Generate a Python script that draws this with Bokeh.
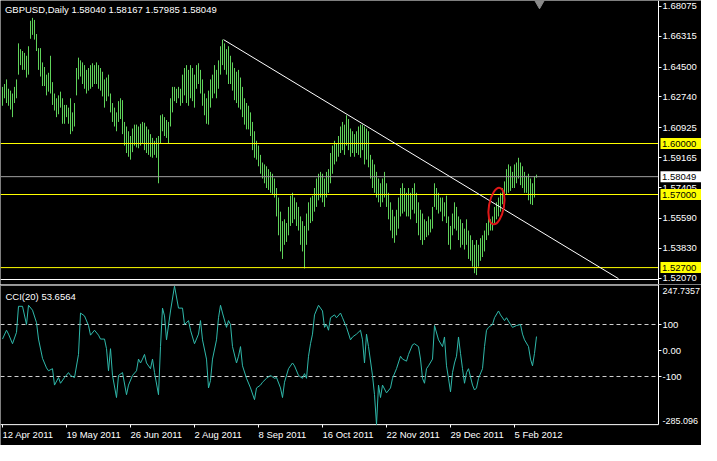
from bokeh.plotting import figure
from bokeh.models import Range1d, LinearAxis, FixedTicker, PrintfTickFormatter, Label, ColumnDataSource
from bokeh.core.properties import value
from bokeh.layouts import column
from bokeh.embed import file_html
from bokeh.resources import INLINE

# ---------------- data ----------------
bar_high = [
    1.6333, 1.6350, 1.6377, 1.6322, 1.6311, 1.6294, 1.6333, 1.6377, 1.6589, 1.6555,
    1.6544, 1.6533, 1.6516, 1.6572, 1.6722, 1.6739, 1.6727, 1.6644, 1.6561, 1.6561,
    1.6477, 1.6450, 1.6405, 1.6416, 1.6516, 1.6361, 1.6294, 1.6266, 1.6283, 1.6305,
    1.6266, 1.6227, 1.6227, 1.6211, 1.6266, 1.6183, 1.6238, 1.6444, 1.6505, 1.6489,
    1.6477, 1.6461, 1.6433, 1.6444, 1.6461, 1.6472, 1.6461, 1.6477, 1.6461, 1.6444,
    1.6422, 1.6377, 1.6388, 1.6405, 1.6294, 1.6238, 1.6211, 1.6183, 1.6249, 1.6266,
    1.6255, 1.6127, 1.6100, 1.6072, 1.6044, 1.6088, 1.6111, 1.6111, 1.6100, 1.6116,
    1.6127, 1.6122, 1.6100, 1.6083, 1.6055, 1.6033, 1.6016, 1.6033, 1.6044, 1.6166,
    1.6172, 1.6155, 1.6138, 1.6127, 1.6266, 1.6333, 1.6333, 1.6322, 1.6333, 1.6322,
    1.6405, 1.6444, 1.6461, 1.6433, 1.6461, 1.6444, 1.6405, 1.6461, 1.6472, 1.6433,
    1.6377, 1.6294, 1.6266, 1.6311, 1.6377, 1.6405, 1.6461, 1.6433, 1.6489, 1.6572,
    1.6611, 1.6589, 1.6555, 1.6572, 1.6516, 1.6477, 1.6444, 1.6422, 1.6433, 1.6388,
    1.6333, 1.6266, 1.6238, 1.6222, 1.6183, 1.6127, 1.6072, 1.6016, 1.5988, 1.5933,
    1.5888, 1.5877, 1.5866, 1.5849, 1.5833, 1.5822, 1.5794, 1.5738, 1.5682, 1.5599,
    1.5543, 1.5554, 1.5532, 1.5627, 1.5693, 1.5710, 1.5682, 1.5654, 1.5627, 1.5571,
    1.5543, 1.5515, 1.5588, 1.5654, 1.5682, 1.5693, 1.5738, 1.5794, 1.5822, 1.5833,
    1.5822, 1.5794, 1.5833, 1.5849, 1.5944, 1.5988, 1.6016, 1.6000, 1.6044, 1.6100,
    1.6127, 1.6111, 1.6166, 1.6144, 1.6088, 1.6072, 1.6055, 1.6072, 1.6100, 1.6111,
    1.6111, 1.6100, 1.6088, 1.6072, 1.5933, 1.5905, 1.5877, 1.5833, 1.5794, 1.5766,
    1.5794, 1.5833, 1.5766, 1.5710, 1.5654, 1.5610, 1.5571, 1.5610, 1.5682, 1.5738,
    1.5766, 1.5738, 1.5710, 1.5738, 1.5710, 1.5738, 1.5766, 1.5710, 1.5654, 1.5610,
    1.5588, 1.5554, 1.5543, 1.5571, 1.5554, 1.5627, 1.5766, 1.5738, 1.5710, 1.5682,
    1.5682, 1.5654, 1.5693, 1.5571, 1.5515, 1.5588, 1.5654, 1.5627, 1.5571, 1.5554,
    1.5532, 1.5499, 1.5554, 1.5488, 1.5460, 1.5432, 1.5404, 1.5432, 1.5404, 1.5443,
    1.5460, 1.5488, 1.5532, 1.5560, 1.5554, 1.5571, 1.5627, 1.5654, 1.5682, 1.5710,
    1.5738, 1.5777, 1.5849, 1.5877, 1.5866, 1.5833, 1.5877, 1.5888, 1.5916, 1.5888,
    1.5866, 1.5833, 1.5810, 1.5822, 1.5794, 1.5766, 1.5805, 1.58167,
]
bar_low = [
    1.6222, 1.6266, 1.6238, 1.6222, 1.6200, 1.6155, 1.6238, 1.6266, 1.6405, 1.6461,
    1.6433, 1.6433, 1.6388, 1.6405, 1.6616, 1.6639, 1.6611, 1.6544, 1.6433, 1.6394,
    1.6338, 1.6338, 1.6283, 1.6305, 1.6294, 1.6227, 1.6194, 1.6155, 1.6172, 1.6211,
    1.6116, 1.6116, 1.6155, 1.6116, 1.6055, 1.6072, 1.6100, 1.6283, 1.6377, 1.6394,
    1.6350, 1.6322, 1.6294, 1.6311, 1.6322, 1.6333, 1.6350, 1.6350, 1.6322, 1.6311,
    1.6277, 1.6211, 1.6249, 1.6277, 1.6183, 1.6127, 1.6100, 1.6072, 1.6127, 1.6144,
    1.6055, 1.5988, 1.5944, 1.5922, 1.5905, 1.5949, 1.5988, 1.5977, 1.5972, 1.5988,
    1.6000, 1.5961, 1.5944, 1.5933, 1.5922, 1.5916, 1.5933, 1.5916, 1.5766, 1.6000,
    1.6072, 1.6044, 1.6033, 1.6000, 1.6100, 1.6183, 1.6249, 1.6238, 1.6266, 1.6222,
    1.6238, 1.6283, 1.6238, 1.6222, 1.6266, 1.6249, 1.6211, 1.6322, 1.6350, 1.6294,
    1.6222, 1.6166, 1.6116, 1.6111, 1.6211, 1.6266, 1.6294, 1.6266, 1.6322, 1.6405,
    1.6461, 1.6433, 1.6405, 1.6350, 1.6350, 1.6311, 1.6255, 1.6238, 1.6211, 1.6200,
    1.6155, 1.6111, 1.6083, 1.6083, 1.6044, 1.5961, 1.5916, 1.5905, 1.5866, 1.5822,
    1.5794, 1.5766, 1.5738, 1.5727, 1.5710, 1.5699, 1.5682, 1.5571, 1.5460, 1.5365,
    1.5321, 1.5404, 1.5421, 1.5460, 1.5515, 1.5532, 1.5554, 1.5515, 1.5488, 1.5404,
    1.5365, 1.5265, 1.5404, 1.5488, 1.5532, 1.5543, 1.5599, 1.5627, 1.5666, 1.5682,
    1.5654, 1.5627, 1.5682, 1.5710, 1.5766, 1.5822, 1.5877, 1.5894, 1.5922, 1.5944,
    1.5961, 1.5933, 1.5988, 1.5961, 1.5922, 1.5944, 1.5922, 1.5944, 1.5933, 1.5916,
    1.5961, 1.5877, 1.5905, 1.5860, 1.5794, 1.5738, 1.5710, 1.5682, 1.5654, 1.5627,
    1.5654, 1.5682, 1.5627, 1.5554, 1.5488, 1.5443, 1.5416, 1.5460, 1.5499, 1.5571,
    1.5588, 1.5599, 1.5571, 1.5571, 1.5554, 1.5610, 1.5588, 1.5532, 1.5460, 1.5432,
    1.5404, 1.5432, 1.5449, 1.5460, 1.5477, 1.5499, 1.5627, 1.5610, 1.5588, 1.5599,
    1.5543, 1.5571, 1.5532, 1.5404, 1.5376, 1.5460, 1.5499, 1.5488, 1.5432, 1.5388,
    1.5404, 1.5376, 1.5404, 1.5321, 1.5310, 1.5276, 1.5237, 1.5226, 1.5276, 1.5310,
    1.5332, 1.5365, 1.5432, 1.5460, 1.5488, 1.5488, 1.5532, 1.5554, 1.5571, 1.5599,
    1.5643, 1.5682, 1.5699, 1.5710, 1.5721, 1.5738, 1.5738, 1.5766, 1.5794, 1.5755,
    1.5738, 1.5710, 1.5710, 1.5666, 1.5643, 1.5638, 1.5682, 1.57985,
]
bar_index = list(range(len(bar_high)))

cci_bar = [
    0, 2, 3, 5, 7, 8, 10, 12, 13, 15, 17, 18, 20, 22, 23, 25, 26, 28, 29, 31,
    33, 34, 36, 38, 39, 41, 43, 44, 46, 48, 49, 51, 52, 53, 54, 55, 57, 58, 60, 62,
    63, 65, 67, 68, 69, 70, 71, 72, 74, 75, 76, 78, 79, 80, 81, 82, 84, 86, 88, 90,
    91, 93, 94, 96, 98, 99, 100, 102, 103, 104, 105, 107, 108, 109, 110, 112, 113, 114, 115, 117,
    118, 119, 120, 122, 124, 126, 127, 129, 130, 132, 134, 136, 137, 139, 140, 141, 143, 145, 146, 148,
    150, 151, 152, 153, 154, 155, 156, 158, 160, 161, 162, 163, 164, 166, 167, 169, 170, 172, 174, 175,
    177, 179, 180, 181, 182, 183, 185, 186, 187, 188, 189, 190, 192, 194, 195, 197, 199, 200, 202, 203,
    205, 206, 208, 209, 210, 211, 212, 213, 215, 216, 218, 220, 221, 222, 223, 224, 225, 226, 227, 228,
    229, 230, 231, 232, 233, 235, 236, 237, 238, 240, 241, 242, 243, 245, 246, 248, 249, 251, 252, 254,
    255, 257, 259, 260, 261, 263, 264, 265, 266, 267,
]
cci_val = [
    44, 78, 63, 26, 70, 170, 170, 100, 174, 155, 107, 44, -30, -67, -78, -70, -133, -104, -126, -104,
    -85, -96, -104, -15, 144, 133, 96, 59, 78, 59, 44, 44, 7, -78, 7, -96, -181, -96, -85, -170,
    -133, -96, -78, -33, -48, -33, -15, -48, -70, -33, -85, -170, 15, 163, 133, 41, 152, 247.7, 163, 163,
    100, 115, 78, 26, 63, 115, 41, -33, -144, -115, -33, 41, 126, 174, 144, 89, 115, 100, 15, -48,
    -22, 15, -59, -107, -144, -189, -144, -133, -122, -107, -96, -107, -104, -144, -181, -122, -70, -48, -59, -96,
    -107, -89, -107, -22, 26, 63, 137, 174, 152, 89, 100, 78, 126, 137, 126, 144, 126, 89, 41, 52,
    63, 78, 41, -48, 63, 15, -96, -170, -285.1, -133, -181, -133, -163, -144, -107, -70, -22, -33, -41, -15,
    22, 26, 15, -33, -107, -126, -70, -59, -33, 96, 41, 15, 52, -59, -107, -159, -85, -48, -22, 52,
    -11, -70, -126, -85, -70, -133, -152, -144, -107, -70, 15, 78, 89, 100, 126, 152, 137, 115, 126, 100,
    89, 96, 100, 63, 41, 15, -33, -59, -11, 53.66,
]

date_tick_bars = [0, 32, 64, 96, 128, 160, 192, 224, 256]
date_tick_labels = ["12 Apr 2011", "19 May 2011", "26 Jun 2011", "2 Aug 2011", "8 Sep 2011",
                    "16 Oct 2011", "22 Nov 2011", "29 Dec 2011", "5 Feb 2012"]
price_ticks = [1.68075, 1.66315, 1.64500, 1.62740, 1.60925, 1.59165, 1.57405, 1.55590, 1.53830, 1.52070]
level_lines = [1.60000, 1.57000, 1.52700]
last_ohlc = [1.58040, 1.58167, 1.57985, 1.58049]
cci_ticks = [100, 0, -100]
cci_tick_labels = ["100", "0.00", "-100"]
cci_levels = [100, -100]
cci_last = "53.6564"
cci_max = 247.7357
cci_min = -285.096
trend_bars = [110.5, 308.0]
trend_prices = [1.6611, 1.5205]
mark_bar = [247]
mark_price = [1.5632]
shift_bar = [268.5]

# ---------------- layout constants (pixels) ----------------
FONT = "Liberation Sans"
FS = "9.5px"
GREEN = "#5fd35a"
TEAL = "#2fb8aa"
W = 701
H1, H2 = 284, 161
PX_PER_BAR = 2.0
X_LO = -1.0
X_HI = X_LO + W / PX_PER_BAR
AXIS_X = 328.0                      # data x of the price-scale line
PXP = 1700.0                        # pixels per price unit
P_TOP = 1.60 + 143.0 / PXP          # price at the top edge of the price panel
P_BOT = P_TOP - 279.0 / PXP         # price at the panel's bottom line
P_FRAME_BOT = P_TOP - H1 / PXP
PXC = 0.26                          # pixels per CCI unit
CCI_TOP_PX = 1.59
CCI_BOT_PX = CCI_TOP_PX + (cci_max - cci_min) * PXC
C_FRAME_TOP = cci_max + CCI_TOP_PX / PXC
C_FRAME_BOT = cci_min - (H2 - CCI_BOT_PX) / PXC


def style_axis(ax):
    ax.axis_line_color = "white"
    ax.major_tick_line_color = "white"
    ax.minor_tick_line_color = None
    ax.major_tick_out = 3
    ax.major_tick_in = 0
    ax.major_label_text_color = "white"
    ax.major_label_text_font = FONT
    ax.major_label_text_font_size = FS
    ax.major_label_standoff = 1


def txt(fig, x, y, s, color="white", align="left", baseline="middle", size=FS, level="overlay"):
    fig.text(x=x, y=y, text=s, text_color=color, text_font=value(FONT),
             text_font_size=value(size), text_align=align, text_baseline=baseline, level=level)


x_range = Range1d(X_LO, X_HI)

# ---------------- main price panel ----------------
p1 = figure(width=W, height=H1, x_range=x_range, y_range=Range1d(P_FRAME_BOT, P_TOP),
            output_backend="svg", toolbar_location=None,
            x_axis_location=None, y_axis_location=None, min_border=0,
            background_fill_color="black", border_fill_color="black", outline_line_color=None)
p1.xgrid.visible = False
p1.ygrid.visible = False

pax = LinearAxis(fixed_location=AXIS_X, ticker=FixedTicker(ticks=price_ticks),
                 formatter=PrintfTickFormatter(format="%.5f"))
style_axis(pax)
p1.add_layout(pax, "right")

src = ColumnDataSource(dict(i=bar_index, hi=bar_high, lo=bar_low))
p1.segment(x0="i", y0="lo", x1="i", y1="hi", source=src, line_color=GREEN, line_width=1)

n = len(level_lines)
p1.segment(x0=[X_LO] * n, x1=[AXIS_X] * n, y0=level_lines, y1=level_lines,
           line_color="#ffff00", line_width=1)
p1.segment(x0=[X_LO], x1=[AXIS_X], y0=[last_ohlc[3]], y1=[last_ohlc[3]],
           line_color="#a0a0a0", line_width=1)
p1.segment(x0=[X_LO], x1=[AXIS_X], y0=[P_BOT], y1=[P_BOT], line_color="white", line_width=1)

p1.line(trend_bars, trend_prices, line_color="white", line_width=1)
p1.ellipse(x=mark_bar, y=mark_price, width=15, height=37, width_units="screen",
           height_units="screen", angle=-0.18, fill_color=None, line_color="#e01818", line_width=2)
p1.scatter(shift_bar, [P_TOP - 2.5 / PXP], marker="inverted_triangle", size=10, color="#8a8a8a")

title = "GBPUSD,Daily  " + " ".join(f"{v:.5f}" for v in last_ohlc)
p1.add_layout(Label(x=1.2, y=P_TOP - 3 / PXP, text=title, text_color="white", text_font=FONT,
                    text_font_size=FS, text_baseline="top", text_align="left"))

half = 5.5 / PXP
box_l = AXIS_X + 1.0
box_levels = level_lines + [last_ohlc[3]]
box_colors = ["#ffff00"] * n + ["white"]
p1.quad(left=[box_l] * len(box_levels), right=[X_HI] * len(box_levels),
        top=[v + half for v in box_levels], bottom=[v - half for v in box_levels],
        fill_color=box_colors, line_color=None, level="overlay")
txt(p1, [box_l + 0.75] * len(box_levels), box_levels, [f"{v:.5f}" for v in box_levels], color="black")

# ---------------- CCI panel ----------------
p2 = figure(width=W, height=H2, x_range=x_range, y_range=Range1d(C_FRAME_BOT, C_FRAME_TOP),
            output_backend="svg", toolbar_location=None,
            x_axis_location=None, y_axis_location=None, min_border=0,
            background_fill_color="black", border_fill_color="black", outline_line_color=None)
p2.xgrid.visible = False
p2.ygrid.visible = False

cax = LinearAxis(fixed_location=AXIS_X, ticker=FixedTicker(ticks=cci_ticks),
                 major_label_overrides={t: s for t, s in zip(cci_ticks, cci_tick_labels)})
style_axis(cax)
cax.axis_line_color = None
p2.add_layout(cax, "right")

dax = LinearAxis(fixed_location=cci_min, ticker=FixedTicker(ticks=date_tick_bars),
                 major_label_overrides={b: "" for b in date_tick_bars})
style_axis(dax)
dax.axis_line_color = None
dax.major_label_text_font_size = "0px"
p2.add_layout(dax, "below")

# panel frame lines: top separator, bottom time line, price-scale line
sep_y = cci_max + (CCI_TOP_PX - 0.59) / PXC
p2.segment(x0=[X_LO, X_LO, AXIS_X], x1=[AXIS_X, AXIS_X, AXIS_X],
           y0=[sep_y, cci_min, C_FRAME_TOP], y1=[sep_y, cci_min, cci_min],
           line_color="white", line_width=1)

m = len(cci_levels)
p2.segment(x0=[X_LO] * m, x1=[AXIS_X] * m, y0=cci_levels, y1=cci_levels,
           line_color="#cfcfcf", line_width=1, line_dash="4 3")

p2.line(cci_bar, cci_val, line_color=TEAL, line_width=1)

p2.add_layout(Label(x=1.5, y=cci_max - 10 / PXC, text="CCI(20) " + cci_last, text_color="white",
                    text_font=FONT, text_font_size=FS, text_baseline="middle", text_align="left"))
txt(p2, [AXIS_X + 2.0], [cci_max - 2 / PXC], [f"{cci_max:.4f}"], baseline="top", size="9px")
txt(p2, [AXIS_X + 2.0], [cci_min + 1 / PXC], [f"{cci_min:.3f}"], baseline="bottom", size="9px")
txt(p2, date_tick_bars, [cci_min - 10 / PXC] * len(date_tick_bars), date_tick_labels)

layout = column(p1, p2, spacing=0)
open("out.html", "w").write(file_html(layout, INLINE))
